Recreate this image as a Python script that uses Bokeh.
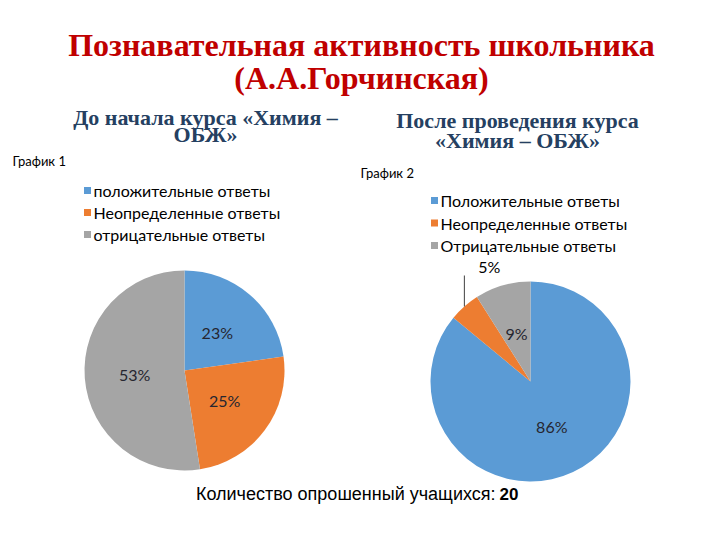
import numpy as np
from bokeh.plotting import figure
from bokeh.models import ColumnDataSource
from bokeh.core.properties import value
from bokeh.embed import file_html
from bokeh.resources import INLINE

# ---- data ----
categories1 = ["положительные ответы", "Неопределенные ответы", "отрицательные ответы"]
values1 = [23, 25, 53]
categories2 = ["Положительные ответы", "Неопределенные ответы", "Отрицательные ответы"]
values2 = [86, 5, 9]
colors = ["#5b9bd5", "#ed7d31", "#a5a5a5"]

title_lines = ["Познавательная активность школьника", "(А.А.Горчинская)"]
sub1_lines = ["До начала курса «Химия –", "ОБЖ»"]
sub2_lines = ["После проведения курса", "«Химия – ОБЖ»"]
chart_names = ["График 1", "График 2"]
footer_text = "Количество опрошенный учащихся:"
footer_count = "20"

W, H = 720, 540
def Y(y):
    return H - y

p = figure(width=W, height=H, x_range=(0, W), y_range=(0, H),
           output_backend="svg", toolbar_location=None, min_border=0)
p.axis.visible = False
p.grid.visible = False
p.outline_line_color = None
p.background_fill_color = "white"
p.border_fill_color = "white"

serif = value("Liberation Serif")
sans = value("Liberation Sans")
calib = value("Lato")

# titles
p.text(x=[361, 361], y=[Y(44), Y(77)], text=title_lines, text_font=serif,
       text_font_style="bold", text_font_size="32px", text_color="#c00000",
       text_align="center", text_baseline="middle")
p.text(x=[205, 205], y=[Y(117), Y(134)], text=sub1_lines, text_font=serif,
       text_font_style="bold", text_font_size="22px", text_color="#254061",
       text_align="center", text_baseline="middle")
p.text(x=[517, 517], y=[Y(120), Y(140)], text=sub2_lines, text_font=serif,
       text_font_style="bold", text_font_size="22px", text_color="#254061",
       text_align="center", text_baseline="middle")

p.text(x=[12, 360], y=[Y(160), Y(172)], text=chart_names, text_font=calib,
       text_font_size="13px", text_color="black",
       text_align="left", text_baseline="middle")

def pie(cx, cy, r, vals, cats, legend_x, legend_y0, legend_dy, inside_min=7):
    vals = np.array(vals, dtype=float)
    frac = vals / vals.sum()
    cum = np.concatenate([[0], np.cumsum(frac)])
    start = np.pi / 2 - 2 * np.pi * cum[:-1]
    end = np.pi / 2 - 2 * np.pi * cum[1:]
    src = ColumnDataSource(dict(start=start, end=end, color=colors))
    p.wedge(x=cx, y=Y(cy), radius=r, start_angle="start", end_angle="end",
            direction="clock", fill_color="color", line_color=None, source=src)
    mid = (start + end) / 2
    for v, m in zip(vals, mid):
        lab = f"{int(v)}%"
        if v >= inside_min:
            lx = cx + 0.5 * r * np.cos(m)
            ly = Y(cy) + 0.5 * r * np.sin(m)
            p.text(x=[lx], y=[ly], text=[lab], text_font=calib, text_font_size="16px",
                   text_color="#262630", text_align="center", text_baseline="middle")
        else:
            ex = cx + r * np.cos(m)
            ey = Y(cy) + r * np.sin(m)
            p.line(x=[ex, ex], y=[ey, Y(cy) + r + 6], line_color="#404040", line_width=1)
            p.text(x=[ex + 25], y=[Y(cy) + r + 15], text=[lab], text_font=calib,
                   text_font_size="16px", text_color="black",
                   text_align="center", text_baseline="middle")
    # legend
    ys = [Y(legend_y0 + i * legend_dy) for i in range(len(cats))]
    p.scatter(x=[legend_x] * len(cats), y=ys, marker="square", size=7,
              fill_color=colors, line_color=None)
    p.text(x=[legend_x + 6] * len(cats), y=ys, text=cats, text_font=calib,
           text_font_size="16px", text_color="black",
           text_align="left", text_baseline="middle")

pie(184, 370, 100, values1, categories1, 87, 190, 22)
pie(530, 381, 100, values2, categories2, 434, 200, 22.5)

# footer
p.text(x=[495], y=[Y(493)], text=[footer_text], text_font=sans, text_font_size="18px",
       text_color="black", text_align="right", text_baseline="middle")
p.text(x=[499], y=[Y(493)], text=[footer_count], text_font=sans, text_font_size="17px",
       text_font_style="bold", text_color="black", text_align="left", text_baseline="middle")

open("out.html", "w").write(file_html(p, INLINE))
